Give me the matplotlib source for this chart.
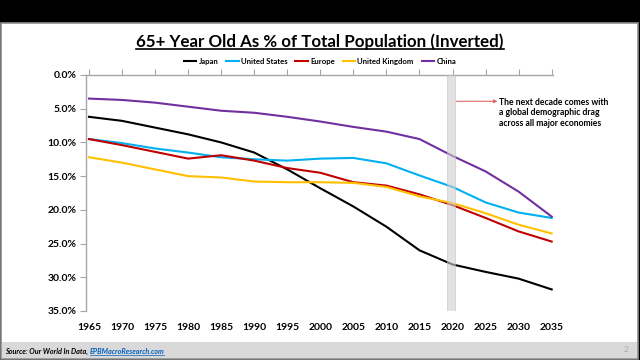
import matplotlib
matplotlib.use('Agg')
import matplotlib.pyplot as plt
from matplotlib.patches import Rectangle
from matplotlib.lines import Line2D
from matplotlib.ticker import FuncFormatter

plt.rcParams['font.family'] = ['Lato', 'DejaVu Sans']

# data (% of population aged 65+)
years = [1965, 1970, 1975, 1980, 1985, 1990, 1995, 2000, 2005, 2010, 2015, 2020, 2025, 2030, 2035]
japan = [6.2, 6.8, 7.8, 8.8, 10.0, 11.5, 14.0, 16.8, 19.5, 22.5, 26.0, 28.1, 29.2, 30.2, 31.8]
united_states = [9.5, 10.1, 10.9, 11.5, 12.2, 12.5, 12.7, 12.4, 12.3, 13.1, 14.9, 16.6, 18.9, 20.4, 21.2]
europe = [9.5, 10.4, 11.4, 12.4, 11.9, 12.7, 13.8, 14.5, 15.9, 16.4, 17.7, 19.3, 21.2, 23.2, 24.7]
united_kingdom = [12.2, 13.0, 14.0, 15.0, 15.2, 15.8, 15.9, 15.9, 16.0, 16.6, 18.0, 19.0, 20.5, 22.2, 23.5]
china = [3.5, 3.7, 4.1, 4.7, 5.3, 5.6, 6.2, 6.9, 7.7, 8.4, 9.5, 12.0, 14.3, 17.3, 21.0]

series = [
    ('Japan', japan, '#000000'),
    ('United States', united_states, '#00b0f0'),
    ('Europe', europe, '#c00000'),
    ('United Kingdom', united_kingdom, '#ffc000'),
    ('China', china, '#7030a0'),
]

title = '65+ Year Old As % of Total Population (Inverted)'
note = 'The next decade comes with\na global demographic drag\nacross all major economies'

W, H = 640, 360
def fx(px):
    return px / W
def fy(py):
    return 1 - py / H

fig = plt.figure(figsize=(6.4, 3.6), dpi=100, facecolor='black')

# slide background + footer bar
fig.patches.append(Rectangle((fx(1), fy(359)), fx(638) - fx(1), fy(23) - fy(359),
                             transform=fig.transFigure, facecolor='white',
                             edgecolor='#8c8c8c', lw=1.2, zorder=-2))
fig.patches.append(Rectangle((fx(2), fy(358)), fx(637) - fx(2), fy(342) - fy(358),
                             transform=fig.transFigure, facecolor='#d9d9d9',
                             edgecolor='none', zorder=-1))

ax = fig.add_axes([fx(86), fy(311), fx(553) - fx(86), fy(75) - fy(311)])
ax.set_zorder(2)
ax.set_facecolor('none')

for name, vals, col in series:
    ax.plot(years, vals, color=col, lw=1.5, label=name, zorder=3)

ax.set_xlim(1964.55, 2035.2)
ax.set_ylim(35, 0)
ax.set_xticks(years)
ax.set_yticks(range(0, 36, 5))
ax.yaxis.set_major_formatter(FuncFormatter(lambda v, _: f'{v:.1f}%'))

for s in ['right', 'bottom']:
    ax.spines[s].set_visible(False)
for s in ['top', 'left']:
    ax.spines[s].set_color('#a6a6a6')
    ax.spines[s].set_linewidth(1)

ax.tick_params(axis='x', top=True, bottom=False, labeltop=False, labelbottom=True,
               direction='out', length=4, color='#a6a6a6', pad=5, labelsize=7.5)
ax.tick_params(axis='y', direction='out', length=4, color='#a6a6a6', pad=3, labelsize=7.5)
for lab in ax.get_xticklabels() + ax.get_yticklabels():
    lab.set_fontweight('bold')

# 2020 marker band
ax.axvspan(2019.1, 2020.3, facecolor='#d0d0d0', edgecolor='#bdbdbd', lw=0.6,
           alpha=0.6, zorder=4)

ax.annotate('', xy=(2026.8, 3.9), xytext=(2020.6, 3.9),
            arrowprops=dict(arrowstyle='-|>', color='#e06666', lw=0.8,
                            mutation_scale=5, shrinkA=0, shrinkB=0))
ax.text(2027.0, 3.4, note, fontsize=6.2, fontweight='bold', va='top', ha='left',
        linespacing=1.2)

leg = fig.legend(loc='center', bbox_to_anchor=(0.5, fy(61.7)), ncol=5, frameon=False,
                 prop={'weight': 'bold', 'size': 5.6}, handlelength=1.6,
                 handletextpad=0.3, columnspacing=1.0)

t = fig.text(0.5, fy(41.7), title, ha='center', va='center', fontsize=12.2, fontweight='bold')

src = fig.text(fx(5), fy(351), 'Source: Our World In Data, ', fontsize=5.2,
               fontweight='bold', style='italic', va='center')
fig.text(fx(626), fy(350), '2', color='#a6a6a6', fontsize=6, ha='center', va='center')

fig.canvas.draw()
r = fig.canvas.get_renderer()
inv = fig.transFigure.inverted()

# underline title
bb = t.get_window_extent(r)
x0, _ = inv.transform((bb.x0, bb.y0))
x1, _ = inv.transform((bb.x1, bb.y0))
fig.add_artist(Line2D([x0, x1], [fy(48.5), fy(48.5)], transform=fig.transFigure,
                      color='black', lw=1.2))

# link text after source
bb = src.get_window_extent(r)
lx, _ = inv.transform((bb.x1, bb.y0))
link = fig.text(lx, fy(351), 'EPBMacroResearch.com', fontsize=5.2, fontweight='bold',
                style='italic', va='center', color='#0563c1')
fig.canvas.draw()
bb = link.get_window_extent(r)
a, _ = inv.transform((bb.x0, bb.y0))
b, _ = inv.transform((bb.x1, bb.y0))
fig.add_artist(Line2D([a, b], [fy(354.8), fy(354.8)], transform=fig.transFigure,
                      color='#0563c1', lw=0.5))

fig.savefig('out.png', dpi=100, facecolor='black')
